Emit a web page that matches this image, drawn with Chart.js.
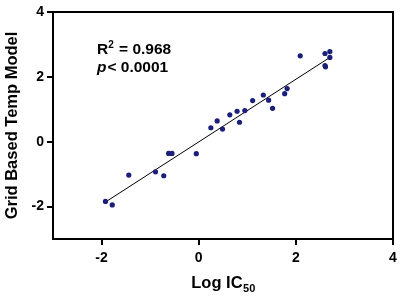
<!DOCTYPE html>
<html>
<head>
<meta charset="utf-8">
<script src="https://cdn.jsdelivr.net/npm/chart.js@4/dist/chart.umd.min.js"></script>
<style>
  body { margin: 0; background: #fff; }
  #wrap { width: 403px; height: 297px; position: relative; }
</style>
</head>
<body>
<div id="wrap"><canvas id="fitChart"></canvas></div>
<script>
// Measured points: log IC50 vs. grid based temp model
const logIC50 = [-1.92, -1.78, -1.44, -0.89, -0.72, -0.62, -0.55, -0.05, 0.25, 0.38, 0.49, 0.64, 0.79, 0.84, 0.95,
                 1.11, 1.33, 1.44, 1.52, 1.77, 1.82, 2.09, 2.60, 2.60, 2.61, 2.70, 2.70];
const modelValues = [-1.84, -1.95, -1.03, -0.93, -1.05, -0.36, -0.36, -0.37, 0.43, 0.64, 0.39, 0.83, 0.94, 0.60, 0.96,
                     1.27, 1.44, 1.28, 1.03, 1.48, 1.64, 2.65, 2.72, 2.35, 2.31, 2.78, 2.60];

// Regression line end points
const fitX = [-1.92, 2.70];
const fitY = [-1.86, 2.60];

const tickValues = [-2, 0, 2, 4];
const axisMin = -3;
const axisMax = 4;

const font = "Arial, 'Liberation Sans', sans-serif";

// draws the full box round the plot plus the label texts
const extrasPlugin = {
    id: 'extras',
    afterDraw(chart) {
        const c = chart.ctx;
        const a = chart.chartArea;
        c.save();
        c.strokeStyle = '#000';
        c.lineWidth = 2;
        c.strokeRect(a.left, a.top, a.right - a.left, a.bottom - a.top);

        c.fillStyle = '#000';
        c.textBaseline = 'alphabetic';
        c.textAlign = 'left';

        // R² annotation
        c.font = 'bold 15.5px ' + font;
        let x = 97, y = 54;
        c.fillText('R', x, y);
        x += c.measureText('R').width;
        c.font = 'bold 10px ' + font;
        c.fillText('2', x, y - 6);
        x += c.measureText('2').width + 1;
        c.font = 'bold 15.5px ' + font;
        c.fillText(' = 0.968', x, y);

        // p value
        y = 72; x = 97;
        c.font = 'italic bold 15.5px ' + font;
        c.fillText('p', x, y);
        x += c.measureText('p').width + 1;
        c.font = 'bold 15.5px ' + font;
        c.fillText('< 0.0001', x, y);

        // x axis title with subscript
        c.font = 'bold 16.5px ' + font;
        const main = 'Log IC';
        const w1 = c.measureText(main).width;
        c.font = 'bold 11px ' + font;
        const w2 = c.measureText('50').width;
        const cx = (a.left + a.right) / 2;
        let tx = cx - (w1 + w2) / 2;
        c.font = 'bold 16.5px ' + font;
        c.fillText(main, tx, 288);
        c.font = 'bold 11px ' + font;
        c.fillText('50', tx + w1 + 0.5, 292);
        c.restore();
    }
};

const ctx = document.getElementById('fitChart').getContext('2d');

const points = logIC50.map((v, i) => ({ x: v, y: modelValues[i] }));
const fitLine = fitX.map((v, i) => ({ x: v, y: fitY[i] }));

const axisCommon = {
    type: 'linear',
    min: axisMin,
    max: axisMax,
    afterBuildTicks: function(scale) {
        scale.ticks = tickValues.map(v => ({ value: v }));
    },
    grid: {
        drawOnChartArea: false,
        drawTicks: true,
        tickLength: 6,
        color: '#000',
        lineWidth: 2
    },
    border: { display: true, color: '#000', width: 2 },
    ticks: {
        color: '#000',
        font: { family: font, size: 14, weight: 'bold' },
        padding: 3
    }
};

new Chart(ctx, {
    type: 'scatter',
    data: {
        datasets: [
            {
                label: 'Data',
                data: points,
                backgroundColor: '#1a1f7a',
                borderColor: '#1a1f7a',
                pointRadius: 2.6,
                borderWidth: 0
            },
            {
                label: 'Fit',
                type: 'line',
                data: fitLine,
                borderColor: '#000',
                borderWidth: 1,
                pointRadius: 0,
                fill: false
            }
        ]
    },
    options: {
        responsive: true,
        maintainAspectRatio: false,
        animation: false,
        layout: { padding: { left: 0, right: 10, top: 12, bottom: 0 } },
        plugins: {
            legend: { display: false },
            tooltip: { enabled: false }
        },
        scales: {
            x: Object.assign({}, axisCommon, {
                position: 'bottom',
                ticks: Object.assign({}, axisCommon.ticks, { padding: 5 }),
                afterFit: function(scale) { scale.height = 58; }
            }),
            y: Object.assign({}, axisCommon, {
                position: 'left',
                title: {
                    display: true,
                    text: 'Grid Based Temp Model',
                    color: '#000',
                    font: { family: font, size: 16.5, weight: 'bold' },
                    padding: { top: 3, bottom: 0 }
                },
                afterFit: function(scale) { scale.width = 53; }
            })
        }
    },
    plugins: [extrasPlugin]
});
</script>
</body>
</html>
